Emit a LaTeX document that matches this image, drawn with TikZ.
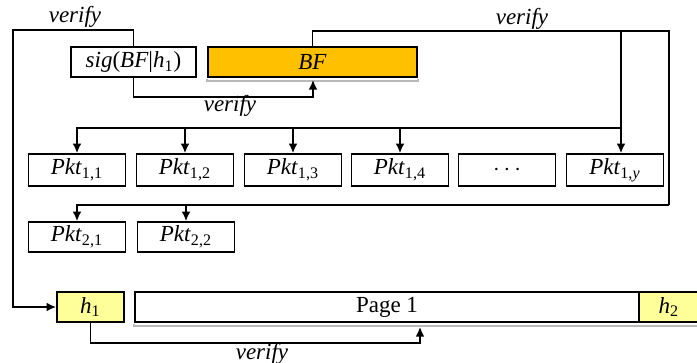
\documentclass[tikz,border=0pt]{standalone}
\usepackage{fontspec}
\setmainfont{Liberation Serif}
\usepackage{tikz}
\usetikzlibrary{arrows.meta}
\definecolor{bforange}{HTML}{FFC000}
\definecolor{hashyellow}{HTML}{FFFF99}

\tikzset{
  box/.style={draw, line width=0.85pt, inner sep=0pt, minimum height=15pt},
  pkt/.style={box, minimum width=48.5pt},
  link/.style={line width=0.8pt},
  arr/.style={link, -{Latex[length=4.8pt,width=4.4pt]}},
  ver/.style={font=\fontsize{11.5}{13}\selectfont\itshape},
  shade/.style={draw=gray!55, line width=0.8pt}
}

\begin{document}
\begin{tikzpicture}[x=0.5pt,y=-0.5pt,font=\fontsize{11.5}{13}\selectfont]
  \useasboundingbox (0,0) rectangle (697,363);
  \draw (133.5,62) node[box, minimum width=62.5pt] (sig) {\textit{sig}(\textit{BF}|\textit{h}\textsubscript{1})};
  \draw (312.5,62) node[box, minimum width=104.5pt, fill=bforange] (BF) {\textit{BF}};
    \draw (77,170) node[pkt, minimum height=16pt] (p11) {\textit{Pkt}\textsubscript{1,1}};
    \draw (185,170) node[pkt, minimum height=16pt] (p12) {\textit{Pkt}\textsubscript{1,2}};
    \draw (293,170) node[pkt, minimum height=16pt] (p13) {\textit{Pkt}\textsubscript{1,3}};
    \draw (400,170) node[pkt, minimum height=16pt] (p14) {\textit{Pkt}\textsubscript{1,4}};
    \draw (507,170) node[pkt, minimum height=16pt] (pdots) {$\cdots$};
    \draw (615,170) node[pkt, minimum height=16pt] (p1y) {\textit{Pkt}\textsubscript{1,\textit{y}}};
      \draw (77,237) node[pkt] (p21) {\textit{Pkt}\textsubscript{2,1}};
      \draw (186,237) node[pkt] (p22) {\textit{Pkt}\textsubscript{2,2}};
  \draw (90.5,307) node[box, minimum width=33.5pt, fill=hashyellow] (h1) {\textit{h}\textsubscript{1}};
  \draw (387,307) node[box, minimum width=252pt] (page) {Page 1};
  \draw (669,307) node[box, minimum width=30pt, fill=hashyellow] (h2) {\textit{h}\textsubscript{2}};

  % verify labels
  \node[ver] (vtl) at (75,17) {verify};
  \node[ver] (vbf) at (230,106) {verify};
  \node[ver] (vtr) at (522,19) {verify};
  \node[ver] (vpg) at (262,354) {verify};

  % turning points
  \coordinate (lcorner) at (13,30);
  \coordinate (bfmark) at (313,80);
  \coordinate (rtop) at (669,31);
  \coordinate (rbot) at (669,205);
  \coordinate (ybr) at (621,31);
  \coordinate (rowline) at (621,128);
  \coordinate (pgmark) at (420,327);

  % shadow brackets
  \draw[shade] ([yshift=-0.6pt]BF.south west) -- ([yshift=-1.6pt]BF.south west) -- ([yshift=-1.6pt]BF.south east) -- ([yshift=-0.6pt]BF.south east);
  \draw[shade] ([yshift=-0.6pt]page.south west) -- ([yshift=-1.6pt]page.south west) -- ([yshift=-1.6pt]h2.south east);

  \draw[arr] (sig.north) |- (lcorner) |- (h1.west);
  \draw[arr] (sig.south) -- ++(0,19) -| (bfmark);
  \draw[link] (BF.north) |- (rtop) -- (rbot);
  \draw[arr] (ybr) -- (ybr |- p1y.north);
  \draw[arr] (rowline) -| (p11);
    \foreach \p in {p12,p13,p14} \draw[arr] (\p |- rowline) -- (\p);
  \draw[arr] (rbot) -| (p21);
  \draw[arr] (p22 |- rbot) -- (p22);
  \draw[arr] (h1.south) -- ++(0,20) -| (pgmark);
\end{tikzpicture}
\end{document}
